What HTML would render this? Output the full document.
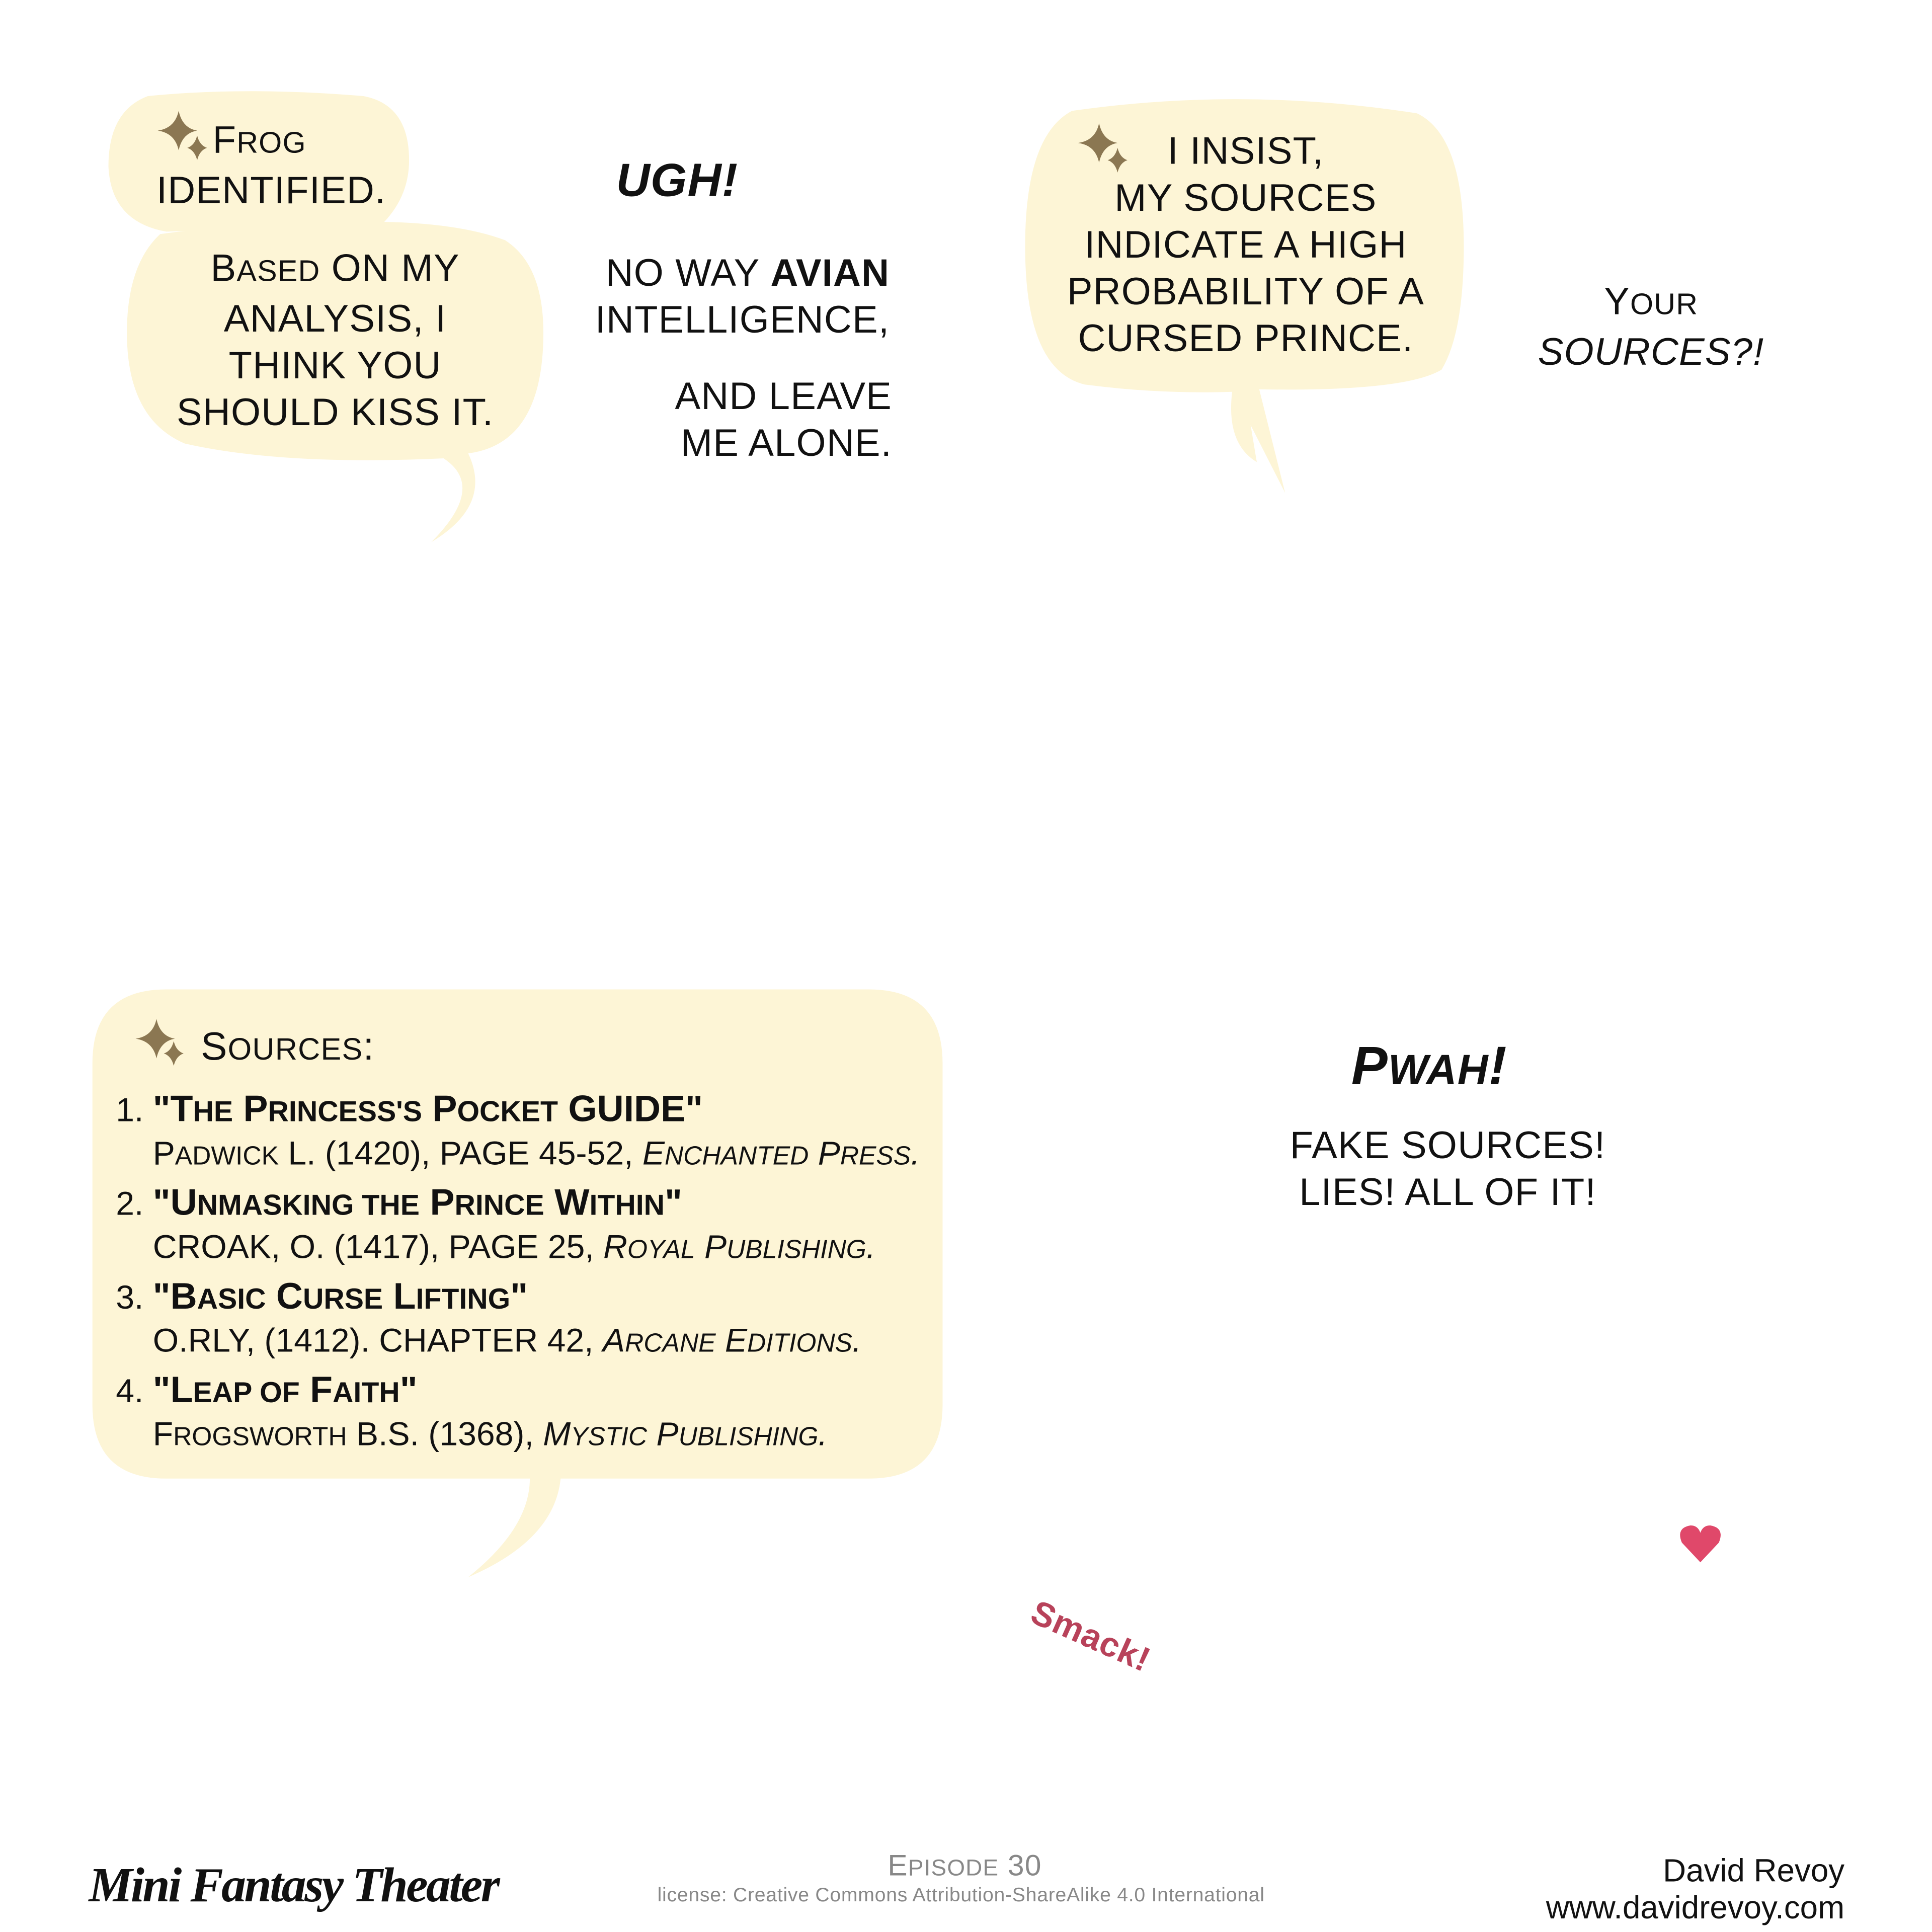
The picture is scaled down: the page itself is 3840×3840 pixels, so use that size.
<!DOCTYPE html>
<html><head><meta charset="utf-8"><style>
html,body{margin:0;padding:0;background:#fff;}
body{width:3840px;height:3840px;overflow:hidden;position:relative;}
#c{position:absolute;left:0;top:0;width:1568px;height:1568px;transform:scale(2.44898);transform-origin:0 0;font-family:"Liberation Sans",sans-serif;color:#111;}
.t{position:absolute;white-space:nowrap;font-size:31px;line-height:38px;letter-spacing:0.5px;}
.c{text-align:center;}
.r{text-align:right;}
svg{position:absolute;left:0;top:0;}
.s{font-size:0.78em;}
</style></head><body><div id="c">
<svg width="1568" height="1568" viewBox="0 0 1568 1568">
<g fill="#fdf5d6">
<path d="M120 78 Q88 90 88 135 Q90 180 135 188 L310 182 Q332 160 332 130 Q332 85 295 78 Q200 70 120 78Z"/>
<path d="M130 190 Q103 215 103 270 Q103 340 150 360 Q230 378 360 372 Q395 395 350 440 Q400 410 380 368 Q441 360 441 270 Q441 215 410 195 Q370 180 300 180 Q200 180 130 190Z"/>
<path d="M870 90 Q832 110 832 200 Q832 300 880 312 Q940 320 1000 318 Q995 360 1020 375 L1015 345 L1043 400 L1022 316 Q1140 318 1170 300 Q1188 270 1188 200 Q1188 110 1150 92 Q1010 70 870 90Z"/>
<path d="M135 803 L705 803 Q765 803 765 863 L765 1140 Q765 1200 705 1200 L455 1200 Q450 1250 380 1280 Q430 1240 430 1200 L135 1200 Q75 1200 75 1140 L75 863 Q75 803 135 803Z"/>
</g>
<g fill="#8b7752">
<path d="M145 90 Q148 104 160 106 Q148 108 145 122 Q142 108 128 106 Q142 104 145 90Z"/>
<path d="M160 110 Q162 118 168 120 Q162 122 160 130 Q158 122 152 120 Q158 118 160 110Z"/>
<path d="M892 100 Q895 114 907 116 Q895 118 892 132 Q889 118 875 116 Q889 114 892 100Z"/>
<path d="M907 120 Q909 128 915 130 Q909 132 907 140 Q905 132 899 130 Q905 128 907 120Z"/>
<path d="M127 827 Q130 841 142 843 Q130 845 127 859 Q124 845 110 843 Q124 841 127 827Z"/>
<path d="M141 845 Q143 853 149 855 Q143 857 141 865 Q139 857 133 855 Q139 853 141 845Z"/>
</g>
<path d="M1380 1268 L1365 1252 Q1360 1240 1372 1238 Q1378 1238 1380 1244 Q1382 1238 1388 1238 Q1400 1240 1395 1252Z" fill="#e0486a"/>
</svg>

<div class="t" style="left:127px;top:95px;">&nbsp;&nbsp;&nbsp;&nbsp;&nbsp;F<span class="s">ROG</span><br>IDENTIFIED.</div>
<div class="t c" style="left:122px;width:300px;top:199px;">B<span class="s">ASED</span> ON MY<br>ANALYSIS, I<br>THINK YOU<br>SHOULD KISS IT.</div>
<div class="t" style="left:500px;top:128px;font-size:38px;font-weight:bold;font-style:italic;">UGH!</div>
<div class="t r" style="left:462px;width:260px;top:203px;">NO WAY <b>AVIAN</b><br>INTELLIGENCE,</div>
<div class="t r" style="left:464px;width:260px;top:303px;">AND LEAVE<br>ME ALONE.</div>
<div class="t c" style="left:831px;width:360px;top:104px;">I INSIST,<br>MY SOURCES<br>INDICATE A HIGH<br>PROBABILITY OF A<br>CURSED PRINCE.</div>
<div class="t c" style="left:1220px;width:240px;top:226px;">Y<span class="s">OUR</span><br><i>SOURCES?!</i></div>

<div class="t" style="left:163px;top:830px;font-size:32px;">S<span class="s">OURCES</span>:</div>
<div class="t" style="left:94px;top:884px;font-size:27px;line-height:34px;letter-spacing:0px;">
1. <b style="font-size:30px;">"T<span class="s">HE</span> P<span class="s">RINCESS'S</span> P<span class="s">OCKET</span> GUIDE"</b><br>
&nbsp;&nbsp;&nbsp;&nbsp;P<span class="s">ADWICK</span> L. (1420), PAGE 45-52, <i>E<span class="s">NCHANTED</span> P<span class="s">RESS</span>.</i><br>
<span style="display:block;height:4px"></span>2. <b style="font-size:30px;">"U<span class="s">NMASKING THE</span> P<span class="s">RINCE</span> W<span class="s">ITHIN</span>"</b><br>
&nbsp;&nbsp;&nbsp;&nbsp;CROAK, O. (1417), PAGE 25, <i>R<span class="s">OYAL</span> P<span class="s">UBLISHING</span>.</i><br>
<span style="display:block;height:4px"></span>3. <b style="font-size:30px;">"B<span class="s">ASIC</span> C<span class="s">URSE</span> L<span class="s">IFTING</span>"</b><br>
&nbsp;&nbsp;&nbsp;&nbsp;O.RLY, (1412). CHAPTER 42, <i>A<span class="s">RCANE</span> E<span class="s">DITIONS</span>.</i><br>
<span style="display:block;height:4px"></span>4. <b style="font-size:30px;">"L<span class="s">EAP OF</span> F<span class="s">AITH</span>"</b><br>
&nbsp;&nbsp;&nbsp;&nbsp;F<span class="s">ROGSWORTH</span> B.S. (1368), <i>M<span class="s">YSTIC</span> P<span class="s">UBLISHING</span>.</i>
</div>

<div class="t c" style="left:1060px;width:200px;top:840px;font-size:44px;line-height:52px;font-weight:bold;font-style:italic;">P<span class="s">WAH</span>!</div>
<div class="t c" style="left:1025px;width:300px;top:911px;">FAKE SOURCES!<br>LIES! ALL OF IT!</div>

<div class="t" style="left:846px;top:1290px;font-size:28px;font-weight:bold;color:#b8425a;transform:rotate(24deg);transform-origin:0 0;">Smack!</div>

<div class="t" style="left:72px;top:1505px;font-size:40px;line-height:50px;font-family:'Liberation Serif',serif;font-style:italic;font-weight:bold;letter-spacing:-1.5px;">Mini Fantasy Theater</div>
<div class="t c" style="left:583px;width:400px;top:1501px;font-size:24px;line-height:28px;color:#888;">E<span class="s">PISODE</span> 30</div>
<div class="t c" style="left:480px;width:600px;top:1529px;font-size:16px;line-height:20px;color:#888;letter-spacing:0.3px;">license: Creative Commons Attribution-ShareAlike 4.0 International</div>
<div class="t r" style="left:1100px;width:397px;top:1503px;font-size:26px;line-height:30px;letter-spacing:0;">David Revoy<br>www.davidrevoy.com</div>
</div></body></html>
